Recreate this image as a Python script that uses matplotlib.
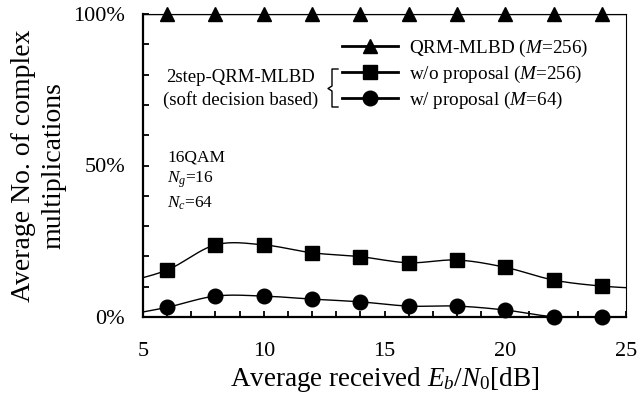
import numpy as np
import matplotlib
matplotlib.use('Agg')
from matplotlib import pyplot as plt
from matplotlib.lines import Line2D
import matplotlib.ticker as mticker

plt.rcParams['font.family'] = ['Liberation Serif', 'DejaVu Serif']
plt.rcParams['mathtext.fontset'] = 'custom'
plt.rcParams['mathtext.rm'] = 'Liberation Serif'
plt.rcParams['mathtext.it'] = 'Liberation Serif:italic'

# Eb/N0 [dB]; the 4 and 26 dB points lie outside the plotted range
snr = [4, 6, 8, 10, 12, 14, 16, 18, 20, 22, 24, 26]
qrm_mlbd = [100, 100, 100, 100, 100, 100, 100, 100, 100, 100, 100, 100]
wo_proposal = [11.0, 15.5, 23.8, 23.8, 21.2, 19.9, 17.9, 18.8, 16.4, 12.2, 10.2, 9.3]
w_proposal = [0.2, 3.2, 6.9, 6.9, 5.9, 5.0, 3.6, 3.6, 2.3, 0.1, 0.1, 0.0]

labels = [r'QRM-MLBD ($M$=256)', r'w/o proposal ($M$=256)', r'w/ proposal ($M$=64)']


def smooth(x, y, n=40):
    # Excel-like smoothed line (Catmull-Rom style Bezier segments)
    x = np.asarray(x, float)
    y = np.asarray(y, float)
    t = np.linspace(0, 1, n)
    xs, ys = [], []
    for i in range(len(x) - 1):
        i0 = max(i - 1, 0)
        i3 = min(i + 2, len(x) - 1)
        c1x = x[i] + (x[i + 1] - x[i0]) / 6
        c1y = y[i] + (y[i + 1] - y[i0]) / 6
        c2x = x[i + 1] - (x[i3] - x[i]) / 6
        c2y = y[i + 1] - (y[i3] - y[i]) / 6
        b0, b1, b2, b3 = (1 - t) ** 3, 3 * (1 - t) ** 2 * t, 3 * (1 - t) * t ** 2, t ** 3
        xs.append(b0 * x[i] + b1 * c1x + b2 * c2x + b3 * x[i + 1])
        ys.append(b0 * y[i] + b1 * c1y + b2 * c2y + b3 * y[i + 1])
    return np.concatenate(xs), np.concatenate(ys)


W, H = 638, 400
fig = plt.figure(figsize=(W / 100, H / 100), dpi=100)
ax = fig.add_axes([143 / W, 1 - 317 / H, 483 / W, 303 / H])

styles = [('^', 10.5), ('s', 10), ('o', 10.5)]
x = np.array(snr)
inside = (x >= 5) & (x <= 25)
for yv, (mk, ms) in zip([qrm_mlbd, wo_proposal, w_proposal], styles):
    sx, sy = smooth(snr, yv)
    ax.plot(sx, sy, color='black', lw=1.0)
    ax.plot(x[inside], np.array(yv)[inside], ls='none', marker=mk, ms=ms,
            color='black', clip_on=False, zorder=4)

ax.set_xlim(5, 25)
ax.set_ylim(0, 100)
ax.xaxis.set_major_locator(mticker.MultipleLocator(5))
ax.xaxis.set_minor_locator(mticker.MultipleLocator(1))
ax.yaxis.set_major_locator(mticker.FixedLocator([0, 50, 100]))
ax.yaxis.set_minor_locator(mticker.MultipleLocator(10))
ax.yaxis.set_major_formatter(mticker.FuncFormatter(lambda v, p: '%d%%' % v))
ax.tick_params(which='both', direction='in', length=4.5, width=1.3,
               right=False, top=False, labelsize=16)
ax.tick_params(axis='x', pad=18)
ax.tick_params(axis='y', pad=13)
for s in ['left', 'bottom']:
    ax.spines[s].set_linewidth(1.6)
for s in ['right', 'top']:
    ax.spines[s].set_linewidth(0.8)

ax.set_xlabel(r'Average received $E_b$/$N_0$[dB]', fontsize=19.5, labelpad=3)
ax.set_ylabel('Average No. of complex\nmultiplications', fontsize=20,
              labelpad=5, linespacing=1.25)

handles = [Line2D([], [], color='black', lw=2, marker=mk, ms=ms)
           for mk, ms in styles]
fig.legend(handles, labels, loc='upper left', frameon=False, fontsize=13.8,
           bbox_to_anchor=(342 / W, 1 - 38 / H), bbox_transform=fig.transFigure,
           borderpad=0, borderaxespad=0, handlelength=2.9, handletextpad=0.6,
           labelspacing=0.25)

def fx(px):
    return px / W

def fy(py):
    return 1 - py / H

fig.text(fx(241), fy(78), '2step-QRM-MLBD', ha='center', va='center', fontsize=13.5)
fig.text(fx(241), fy(100), '(soft decision based)', ha='center', va='center', fontsize=13.5)
bx = [338, 332, 332, 328, 332, 332, 338]
by = [69, 69, 86, 88.5, 91, 107, 107]
fig.add_artist(Line2D([fx(v) for v in bx], [fy(v) for v in by], color='black', lw=1.0))

fig.text(fx(167), fy(157), '16QAM', ha='left', va='center', fontsize=12.5)
fig.text(fx(167), fy(180), r'$N_g$=16', ha='left', va='center', fontsize=12.5)
fig.text(fx(167), fy(203), r'$N_c$=64', ha='left', va='center', fontsize=12.5)

plt.savefig('out.png', dpi=100)
plt.close(fig)
